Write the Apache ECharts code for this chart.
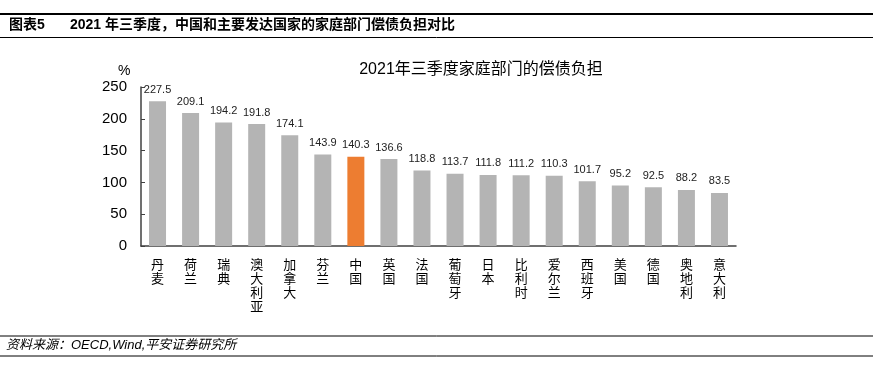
<!DOCTYPE html>
<html><head><meta charset="utf-8">
<script src="https://cdn.jsdelivr.net/npm/echarts@6/dist/echarts.min.js"></script>
<style>html,body{margin:0;padding:0;background:#fff}#c{width:873px;height:369px}</style>
</head><body><div id="c"></div>
<script>
const categories = ['丹麦','荷兰','瑞典','澳大利亚','加拿大','芬兰','中国','英国','法国','葡萄牙','日本','比利时','爱尔兰','西班牙','美国','德国','奥地利','意大利'];
const values = [227.5,209.1,194.2,191.8,174.1,143.9,140.3,136.6,118.8,113.7,111.8,111.2,110.3,101.7,95.2,92.5,88.2,83.5];
const highlight = '中国';
const yTicks = [0,50,100,150,200,250];
const headerTitle = '2021 年三季度，中国和主要发达国家的家庭部门偿债负担对比';
const chartTitle = '2021年三季度家庭部门的偿债负担';
const sourceText = '资料来源：OECD,Wind,平安证券研究所';

const FONT = '"Liberation Sans","Noto Sans CJK SC",sans-serif';
const chart = echarts.init(document.getElementById('c'));
chart.setOption({
  animation:false,
  backgroundColor:'#fff',
  title:{text:chartTitle,left:476,top:57,textAlign:'center',textStyle:{fontSize:16,fontWeight:'normal',color:'#000',fontFamily:FONT}},
  grid:{left:141,right:137,top:87,bottom:123},
  xAxis:{type:'category',data:categories,
    axisLine:{lineStyle:{color:'#404040',width:1.5}},
    axisTick:{inside:true,length:4,lineStyle:{color:'#404040'}},
    axisLabel:{interval:0,margin:12,fontSize:13,lineHeight:14,color:'#000',fontFamily:FONT,formatter:v=>v.split('').join('\n')}},
  yAxis:{type:'value',min:yTicks[0],max:yTicks[yTicks.length-1],interval:50,
    splitLine:{show:false},
    axisLine:{show:true,lineStyle:{color:'#404040',width:1.5}},
    axisTick:{show:true,inside:true,length:4,lineStyle:{color:'#404040'}},
    axisLabel:{fontSize:15,color:'#000',margin:14,fontFamily:FONT}},
  series:[{type:'bar',barWidth:17,
    data:values.map((v,i)=>({value:v,itemStyle:{color:categories[i]===highlight?'#ED7D31':'#B4B4B4'}})),
    label:{show:true,position:'top',distance:6,fontSize:11,color:'#222',fontFamily:FONT,formatter:p=>p.value.toFixed(1)}}],
  graphic:[
    {type:'line',shape:{x1:0,y1:14,x2:873,y2:14},style:{stroke:'#000',lineWidth:2}},
    {type:'line',shape:{x1:0,y1:37.5,x2:873,y2:37.5},style:{stroke:'#000',lineWidth:1}},
    {type:'text',left:9,top:18,style:{text:'图表5',fontSize:14,fontWeight:'bold',fill:'#000',fontFamily:FONT}},
    {type:'text',left:70,top:18,style:{text:headerTitle,fontSize:14,fontWeight:'bold',fill:'#000',fontFamily:FONT}},
    {type:'text',left:118,top:64,style:{text:'%',fontSize:14,fill:'#000',fontFamily:FONT}},
    {type:'line',shape:{x1:0,y1:336,x2:873,y2:336},style:{stroke:'#000',lineWidth:1}},
    {type:'text',left:6,top:339,style:{text:sourceText,fontSize:13,fontStyle:'italic',fill:'#000',fontFamily:FONT}},
    {type:'line',shape:{x1:0,y1:356,x2:873,y2:356},style:{stroke:'#000',lineWidth:1}}
  ]
});
</script></body></html>
